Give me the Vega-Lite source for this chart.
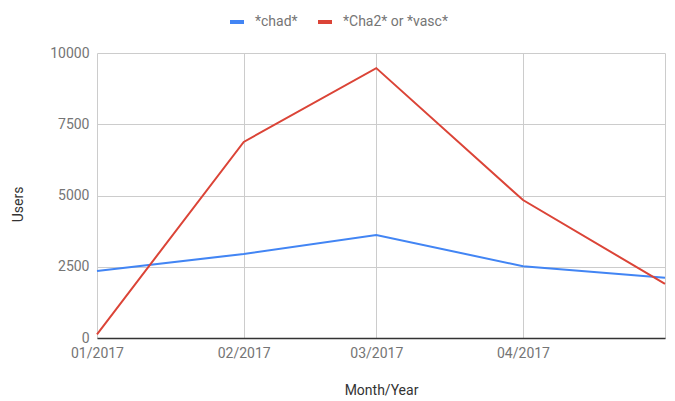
{
  "$schema": "https://vega.github.io/schema/vega-lite/v6.json",
  "autosize": "none",
  "width": 568,
  "height": 285,
  "padding": {"left": 97, "top": 53, "right": 10, "bottom": 63},
  "background": "white",
  "config": {
    "font": "Roboto",
    "view": {"stroke": null}
  },
  "data": {
    "values": [
      {"date": "2017-01-01", "series": "*chad*", "users": 2350},
      {"date": "2017-02-01", "series": "*chad*", "users": 2950},
      {"date": "2017-03-01", "series": "*chad*", "users": 3610},
      {"date": "2017-04-01", "series": "*chad*", "users": 2520},
      {"date": "2017-05-01", "series": "*chad*", "users": 2110},
      {"date": "2017-01-01", "series": "*Cha2* or *vasc*", "users": 130},
      {"date": "2017-02-01", "series": "*Cha2* or *vasc*", "users": 6880},
      {"date": "2017-03-01", "series": "*Cha2* or *vasc*", "users": 9470},
      {"date": "2017-04-01", "series": "*Cha2* or *vasc*", "users": 4840},
      {"date": "2017-05-01", "series": "*Cha2* or *vasc*", "users": 1900}
    ]
  },
  "mark": {"type": "line", "strokeWidth": 2},
  "encoding": {
    "x": {
      "field": "date",
      "type": "temporal",
      "scale": {
        "type": "utc",
        "domain": [
          {"year": 2017, "month": 1, "date": 1, "utc": true},
          {"year": 2017, "month": 5, "date": 1, "utc": true}
        ]
      },
      "axis": {
        "title": "Month/Year",
        "values": [
          {"year": 2017, "month": 1, "date": 1, "utc": true},
          {"year": 2017, "month": 2, "date": 1, "utc": true},
          {"year": 2017, "month": 3, "date": 1, "utc": true},
          {"year": 2017, "month": 4, "date": 1, "utc": true},
          {"year": 2017, "month": 5, "date": 1, "utc": true}
        ],
        "labelExpr": "utcmonth(datum.value) == 4 ? '' : utcFormat(datum.value, '%m/%Y')",
        "labelAngle": 0,
        "labelAlign": "center",
        "labelFlush": false,
        "labelOverlap": false,
        "labelFontSize": 14,
        "labelColor": "#757575",
        "labelPadding": 8,
        "ticks": false,
        "domain": true,
        "domainColor": "#333333",
        "domainWidth": 1.5,
        "grid": true,
        "gridColor": "#cccccc",
        "titleFontSize": 14,
        "titleFontWeight": "normal",
        "titleColor": "#333333",
        "titleY": 45,
        "titleBaseline": "top"
      }
    },
    "y": {
      "field": "users",
      "type": "quantitative",
      "scale": {"domain": [0, 10000], "nice": false},
      "axis": {
        "title": "Users",
        "values": [0, 2500, 5000, 7500, 10000],
        "format": "d",
        "labelFontSize": 14,
        "labelColor": "#757575",
        "labelPadding": 8,
        "ticks": false,
        "domain": false,
        "grid": true,
        "gridColor": "#cccccc",
        "titleFontSize": 14,
        "titleFontWeight": "normal",
        "titleColor": "#333333",
        "titleX": -72,
        "titleY": 151
      }
    },
    "color": {
      "field": "series",
      "type": "nominal",
      "scale": {
        "domain": ["*chad*", "*Cha2* or *vasc*"],
        "range": ["#4285F4", "#DB4437"]
      },
      "legend": {
        "title": null,
        "orient": "none",
        "legendX": 131,
        "legendY": -40,
        "direction": "horizontal",
        "symbolType": "stroke",
        "symbolSize": 196,
        "symbolStrokeWidth": 4,
        "labelFontSize": 14,
        "labelColor": "#757575",
        "labelOffset": 9,
        "columnPadding": 12
      }
    }
  }
}
